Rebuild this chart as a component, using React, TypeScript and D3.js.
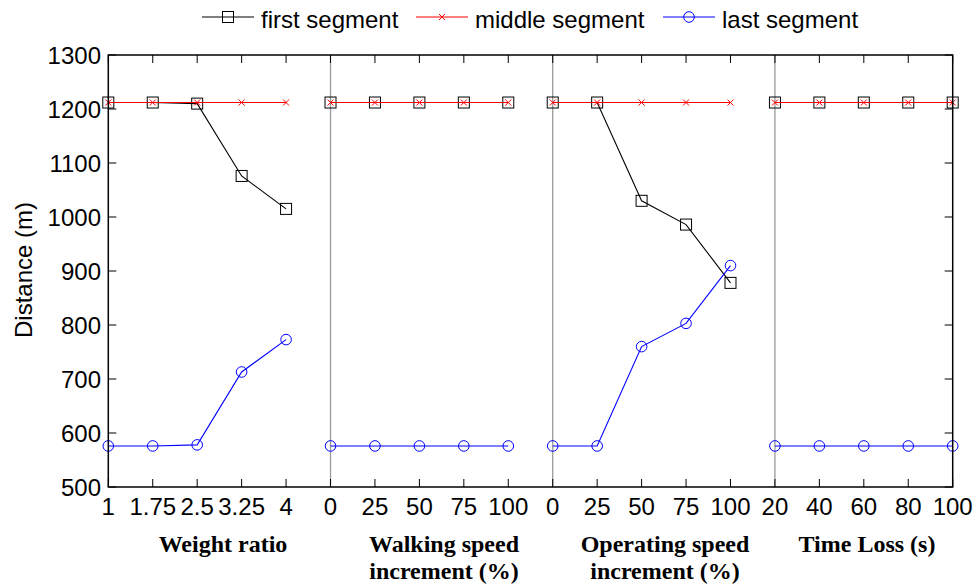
import React from 'react';
import * as d3 from 'd3';

// panel titles (bold serif under the axis)
const panelTitles = [
  ['Weight ratio'],
  ['Walking speed', 'increment (%)'],
  ['Operating speed', 'increment (%)'],
  ['Time Loss (s)'],
];

const xTickLabels = [
  ['1', '1.75', '2.5', '3.25', '4'],
  ['0', '25', '50', '75', '100'],
  ['0', '25', '50', '75', '100'],
  ['20', '40', '60', '80', '100'],
];

const firstSegment = [
  [1212, 1212, 1210, 1076, 1015],
  [1212, 1212, 1212, 1212, 1212],
  [1212, 1212, 1030, 986, 878],
  [1212, 1212, 1212, 1212, 1212],
];

const middleSegment = [
  [1212, 1212, 1212, 1212, 1212],
  [1212, 1212, 1212, 1212, 1212],
  [1212, 1212, 1212, 1212, 1212],
  [1212, 1212, 1212, 1212, 1212],
];

const lastSegment = [
  [576, 576, 578, 713, 773],
  [576, 576, 576, 576, 576],
  [576, 576, 760, 803, 910],
  [576, 576, 576, 576, 576],
];

const yTicks = [500, 600, 700, 800, 900, 1000, 1100, 1200, 1300];

const seriesNames = ['first segment', 'middle segment', 'last segment'];

const W = 976;
const H = 587;
const plot = { left: 108.3, right: 952.7, top: 55, bottom: 487 };
const titleCenters = [223, 444, 665, 867];
const legendX = [202, 416, 663];
const sans = 'Arial, "Liberation Sans", Helvetica, sans-serif';
const serif = '"Times New Roman", "Liberation Serif", serif';

function Marker({ kind, x, y }: { kind: string; x: number; y: number }) {
  if (kind === 'square') {
    return <rect x={x - 5.5} y={y - 5.5} width={11} height={11} fill="none" stroke="#000" strokeWidth={1} />;
  }
  if (kind === 'cross') {
    return (
      <g stroke="#ff0000" strokeWidth={1}>
        <line x1={x - 3} y1={y - 3} x2={x + 3} y2={y + 3} />
        <line x1={x - 3} y1={y + 3} x2={x + 3} y2={y - 3} />
      </g>
    );
  }
  return <circle cx={x} cy={y} r={5.3} fill="none" stroke="#0000ff" strokeWidth={1} />;
}

export default function App() {
  const nPer = 5;
  const total = panelTitles.length * nPer;

  const x = d3.scaleLinear().domain([0, total - 1]).range([plot.left, plot.right]);
  const y = d3.scaleLinear().domain([500, 1300]).range([plot.bottom, plot.top]);

  const line = d3.line<[number, number]>().x(d => x(d[0])).y(d => y(d[1]));

  const series = [
    { data: firstSegment, color: '#000000', marker: 'square' },
    { data: middleSegment, color: '#ff0000', marker: 'cross' },
    { data: lastSegment, color: '#0000ff', marker: 'circle' },
  ];

  const xIdx = d3.range(total);

  return (
    <svg width={W} height={H} style={{ position: 'absolute', left: 0, top: 0, background: '#fff' }}>
      {/* panel separators */}
      {[1, 2, 3].map(p => (
        <line key={p} x1={x(p * nPer)} x2={x(p * nPer)} y1={plot.top} y2={plot.bottom} stroke="#9a9a9a" strokeWidth={1.3} />
      ))}

      {/* ticks */}
      {xIdx.map(i => (
        <g key={i} stroke="#000" strokeWidth={1}>
          <line x1={x(i)} x2={x(i)} y1={plot.bottom} y2={plot.bottom - 8} />
          <line x1={x(i)} x2={x(i)} y1={plot.top} y2={plot.top + 8} />
        </g>
      ))}
      {yTicks.map(t => (
        <g key={t} stroke="#000" strokeWidth={1}>
          <line x1={plot.left} x2={plot.left + 8} y1={y(t)} y2={y(t)} />
          <line x1={plot.right} x2={plot.right - 8} y1={y(t)} y2={y(t)} />
        </g>
      ))}

      {/* series */}
      {series.map((s, si) => (
        <g key={si}>
          {s.data.map((vals, p) => {
            const pts: [number, number][] = vals.map((v, j) => [p * nPer + j, v]);
            return (
              <g key={p}>
                <path d={line(pts) || ''} fill="none" stroke={s.color} strokeWidth={1.1} />
                {pts.map((pt, j) => (
                  <Marker key={j} kind={s.marker} x={x(pt[0])} y={y(pt[1])} />
                ))}
              </g>
            );
          })}
        </g>
      ))}

      {/* box */}
      <rect x={plot.left} y={plot.top} width={plot.right - plot.left} height={plot.bottom - plot.top} fill="none" stroke="#000" strokeWidth={1.5} />

      {/* y tick labels */}
      {yTicks.map(t => (
        <text key={t} x={101} y={y(t)} dy="0.36em" textAnchor="end" fontFamily={sans} fontSize={24} fill="#000">
          {t}
        </text>
      ))}

      {/* x tick labels */}
      {xTickLabels.map((labels, p) =>
        labels.map((lab, j) => (
          <text key={`${p}-${j}`} x={x(p * nPer + j)} y={515} textAnchor="middle" fontFamily={sans} fontSize={24} fill="#000">
            {lab}
          </text>
        ))
      )}

      {/* y axis title */}
      <text transform="translate(32,270) rotate(-90)" textAnchor="middle" fontFamily={sans} fontSize={24} fill="#000">
        Distance (m)
      </text>

      {/* panel titles */}
      {panelTitles.map((lines, p) => (
        <text key={p} textAnchor="middle" fontFamily={serif} fontWeight="bold" fontSize={24} fill="#000">
          {lines.map((l, k) => (
            <tspan key={k} x={titleCenters[p]} y={552 + k * 27}>
              {l}
            </tspan>
          ))}
        </text>
      ))}

      {/* legend */}
      {series.map((s, si) => (
        <g key={si}>
          <line x1={legendX[si]} x2={legendX[si] + 52} y1={17} y2={17} stroke={s.color} strokeWidth={1.1} />
          <Marker kind={s.marker} x={legendX[si] + 26} y={17} />
          <text x={legendX[si] + 59} y={28} fontFamily={sans} fontSize={24} fill="#000">
            {seriesNames[si]}
          </text>
        </g>
      ))}
    </svg>
  );
}
